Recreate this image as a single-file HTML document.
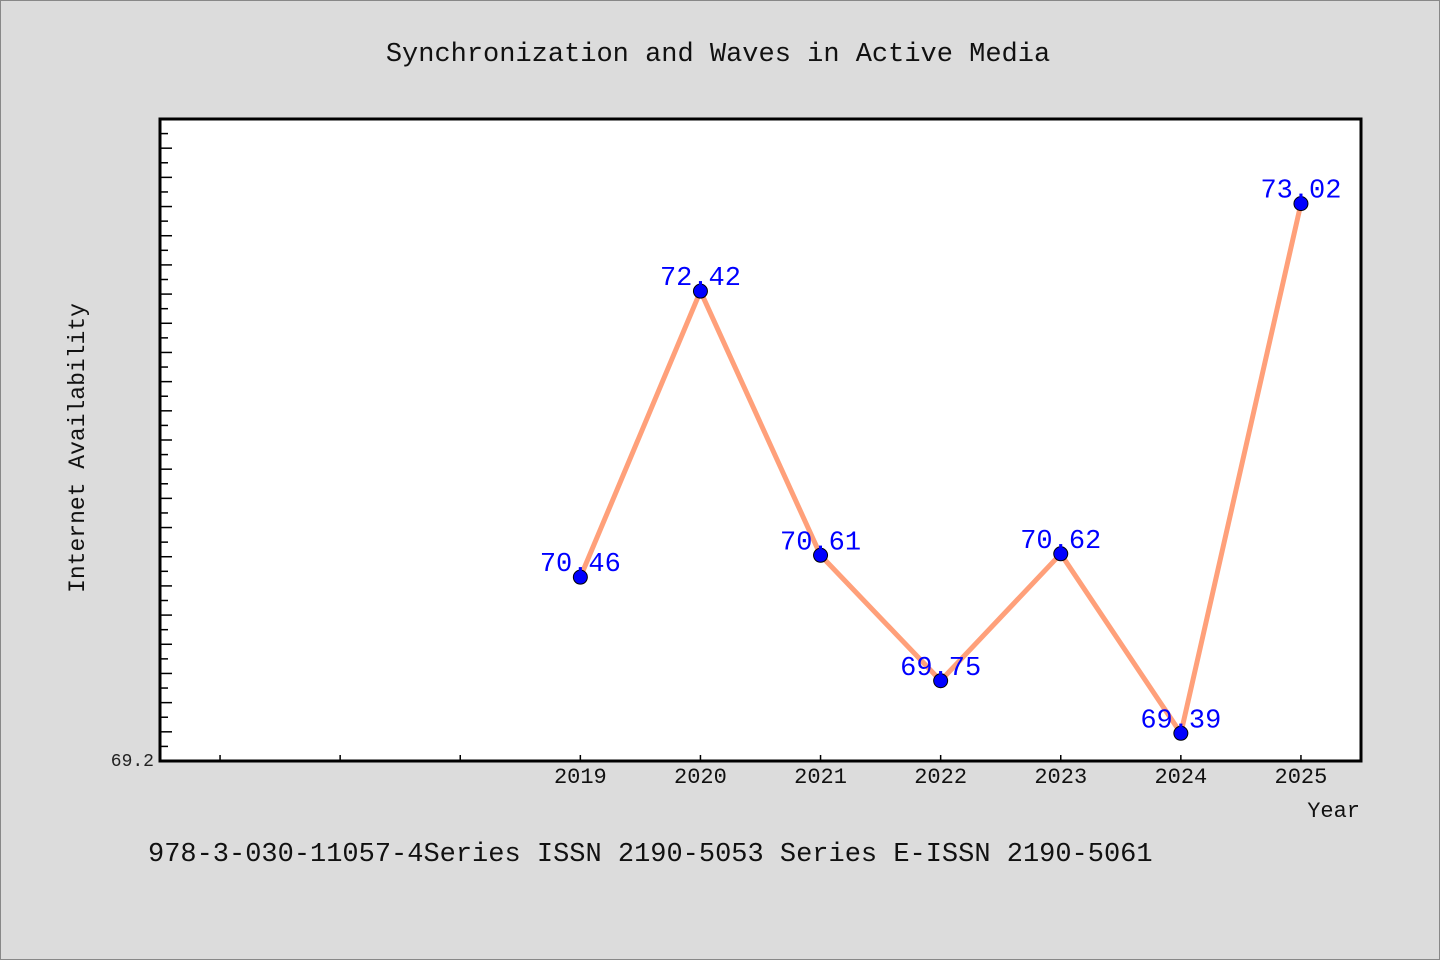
<!DOCTYPE html>
<html><head><meta charset="utf-8"><style>
html,body{margin:0;padding:0;background:#dcdcdc;}
svg{display:block;font-family:"Liberation Mono","WenQuanYi Zen Hei",monospace;}
</style></head><body>
<svg id="c" width="1440" height="960">
<rect x="0.5" y="0.5" width="1439" height="959" fill="#dcdcdc" stroke="#888"/>
<text x="718" y="61" text-anchor="middle" font-size="27" fill="#111">Synchronization and Waves in Active Media</text>
<rect x="160" y="119" width="1201" height="642" fill="#fff" stroke="#000" stroke-width="3"/>
<g id="axes"></g>
<g id="series"></g>
<text x="84" y="448" transform="rotate(-90 84 448)" text-anchor="middle" font-size="23" fill="#111">Internet Availability</text>
<text x="1360" y="817" text-anchor="end" font-size="22" fill="#111">Year</text>
<text x="148" y="861" font-size="27" fill="#111">978-3-030-11057-4Series ISSN 2190-5053 Series E-ISSN 2190-5061</text>
</svg>
<script>
const years = [2019, 2020, 2021, 2022, 2023, 2024, 2025];
const values = [70.46, 72.42, 70.61, 69.75, 70.62, 69.39, 73.02];
const xTicks = [2016, 2017, 2018, 2019, 2020, 2021, 2022, 2023, 2024, 2025];
const xLabels = ["", "", "", "2019", "2020", "2021", "2022", "2023", "2024", "2025"];
const yMin = 69.2, yMax = 73.6;
const NS = "http://www.w3.org/2000/svg";
const X0 = 160, X1 = 1361, Y0 = 761, Y1 = 119;
function xs(v){ return X0 + (v - 2015.5) / 10 * (X1 - X0); }
function ys(v){ return Y0 - (v - yMin) / (yMax - yMin) * (Y0 - Y1); }
function mk(tag, attrs, parent){ const e = document.createElementNS(NS, tag); for (const k in attrs) e.setAttribute(k, attrs[k]); parent.appendChild(e); return e; }
const ax = document.getElementById('axes');
for (let i = 1; i < 44; i++) {
  const v = yMin + i * 0.1, y = ys(v);
  const t = mk('line', {x1: X0, x2: X0 + (i % 2 === 0 ? 12 : 8), y1: y, y2: y, stroke: '#000', 'stroke-width': 1.5}, ax);
  
  
}
const yl = mk('text', {x: 154, y: Y0 + 5, 'text-anchor': 'end', 'font-size': 18, fill: '#222'}, ax);
yl.textContent = yMin.toFixed(1);


xTicks.forEach((v, i) => {
  const x = xs(v);
  const t = mk('line', {x1: x, x2: x, y1: Y0, y2: Y0 - 6, stroke: '#000', 'stroke-width': 1.5}, ax);
  
  
  if (xLabels[i]) {
    const l = mk('text', {x: x, y: 783, 'text-anchor': 'middle', 'font-size': 22, fill: '#111'}, ax);
    l.textContent = xLabels[i];
    
    
  }
});
const sg = document.getElementById('series');
const pl = mk('polyline', {points: years.map((y, i) => xs(y) + ',' + ys(values[i])).join(' '), fill: 'none', stroke: '#ffa07a', 'stroke-width': 5, 'stroke-linejoin': 'round'}, sg);


years.forEach((yr, i) => {
  const c = mk('circle', {cx: xs(yr), cy: ys(values[i]), r: 7, fill: '#0000ff', stroke: '#000', 'stroke-width': 1}, sg);
  
  
  const l = mk('text', {x: xs(yr), y: ys(values[i]) - 6, 'text-anchor': 'middle', 'font-size': 27, fill: '#0000ff'}, sg);
  l.textContent = values[i].toFixed(2);
  
  
});
</script>
</body></html>
